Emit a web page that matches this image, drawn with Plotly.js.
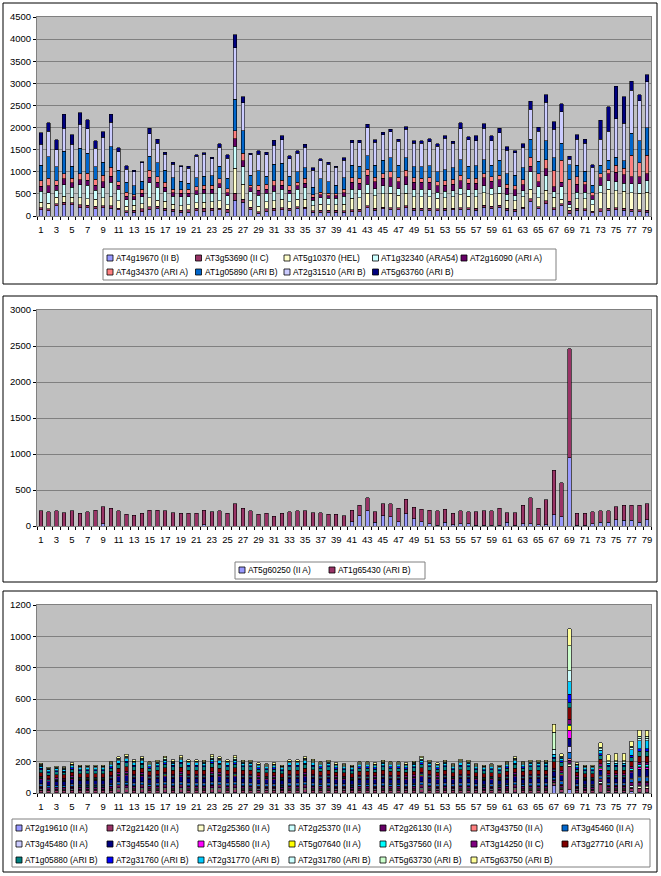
<!DOCTYPE html>
<html><head><meta charset="utf-8">
<script src="https://cdn.plot.ly/plotly-3.0.1.min.js"></script>
<style>html,body{margin:0;padding:0;background:#fff}#chart{width:661px;height:876px}</style>
</head><body><div id="chart"></div>
<script>
// ---------- categories / ticks ----------
const categories = [1,2,3,4,5,6,7,8,9,10,11,12,13,14,15,16,17,18,19,20,21,22,23,24,25,26,27,28,29,30,31,32,33,34,35,36,37,38,39,40,41,42,43,44,45,46,47,48,49,50,51,52,53,54,55,56,57,58,59,60,61,62,63,64,65,66,67,68,69,70,71,72,73,74,75,76,77,78,79];
const tickVals = [1,3,5,7,9,11,13,15,17,19,21,23,25,27,29,31,33,35,37,39,41,43,45,47,49,51,53,55,57,59,61,63,65,67,69,71,73,75,77,79];
const tickLabels = ['1','3','5','7','9','11','13','15','17','19','21','23','25','27','29','31','33','35','37','39','41','43','45','47','49','51','53','55','57','59','61','63','65','67','69','71','73','75','77','79'];

// ---------- panel 1 ----------
const p1Names = ['AT4g19670 (II B)','AT3g53690 (II C)','AT5g10370 (HEL)','AT1g32340 (ARA54)','AT2g16090 (ARI A)','AT4g34370 (ARI A)','AT1g05890 (ARI B)','AT2g31510 (ARI B)','AT5g63760 (ARI B)'];
const p1Colors = ['#9999FF','#993366','#FFFFCC','#CCFFFF','#660066','#FF8080','#0066CC','#CCCCFF','#000080'];
const p1_AT4g19670 = [140,120,230,250,260,190,190,160,190,180,140,80,90,100,150,170,130,110,90,90,120,110,120,140,90,360,310,150,60,110,120,140,130,170,160,80,80,90,90,80,100,100,190,130,160,150,140,190,130,130,130,120,130,140,150,150,130,200,180,200,130,110,160,330,170,280,140,240,60,130,120,70,100,130,140,130,110,100,90];
const p1_AT3g53690 = [45,40,50,60,40,60,50,60,40,50,40,40,40,60,60,50,50,40,40,50,50,60,50,40,60,160,70,50,40,50,50,50,40,40,40,40,50,40,40,40,40,50,40,50,40,40,50,40,40,40,50,40,40,40,40,40,50,40,40,40,40,40,40,60,40,60,50,40,70,40,40,40,60,40,50,40,40,40,40];
const p1_AT5g10370 = [125,130,140,140,120,160,150,160,180,200,160,100,110,120,200,140,150,120,100,110,130,140,150,160,110,560,340,150,120,160,170,190,150,170,180,110,140,120,130,150,260,260,290,280,300,320,280,290,270,270,260,240,240,250,290,260,250,290,260,270,190,190,230,210,200,240,230,100,60,220,230,140,370,440,380,390,380,380,410];
const p1_AT1g32340 = [245,240,160,260,230,300,310,200,230,330,270,150,130,160,340,290,220,180,200,180,190,200,200,300,200,500,390,200,250,200,220,230,180,220,260,130,140,150,140,180,200,180,200,160,180,160,150,190,150,160,150,140,150,140,150,140,160,150,150,150,130,120,140,400,250,330,130,280,60,150,150,130,170,190,200,180,200,210,260];
const p1_AT2g16090 = [120,150,120,130,100,110,110,120,130,140,80,80,60,80,130,110,100,80,80,80,80,90,90,90,70,170,140,90,110,90,120,90,80,80,100,60,70,60,60,80,160,150,200,150,170,200,150,180,170,160,170,140,140,150,170,150,150,180,160,160,140,130,140,120,120,160,110,100,80,180,170,80,160,160,220,190,160,160,150];
const p1_AT4g34370 = [125,170,100,120,100,140,160,130,150,200,80,90,50,80,160,130,110,80,80,90,90,100,90,110,90,180,170,60,120,110,120,110,100,80,110,60,60,60,40,70,110,110,140,110,110,130,110,140,100,90,100,90,100,110,120,100,110,100,100,100,90,90,110,210,170,200,360,500,500,170,70,70,100,100,160,150,480,310,420];
const p1_AT1g05890 = [350,490,310,500,280,570,450,280,300,470,270,220,200,190,310,310,280,260,200,140,210,200,210,290,230,710,510,220,320,180,370,380,220,240,240,170,300,250,200,260,280,270,300,270,300,320,270,290,250,260,280,230,250,260,350,290,290,310,260,340,240,240,270,410,290,430,300,380,330,260,230,160,190,200,180,170,500,500,630];
const p1_AT2g31510 = [470,580,390,530,490,540,550,420,560,550,410,300,320,410,510,440,360,300,320,340,480,500,380,420,460,1160,630,460,380,480,430,540,400,420,460,380,410,400,400,400,510,540,640,520,580,580,540,640,540,540,540,580,710,550,700,590,560,710,550,620,530,510,470,670,680,870,640,720,120,590,640,410,590,660,870,850,970,910,1040];
const p1_AT5g63760 = [260,190,220,310,220,270,210,170,120,180,90,80,40,30,130,100,40,40,30,40,30,30,40,80,80,300,140,40,70,60,110,80,60,60,70,60,40,40,20,60,50,50,70,50,50,60,50,60,50,50,70,50,60,50,140,70,120,110,120,100,80,50,70,190,90,170,170,180,70,100,90,60,420,550,730,600,210,130,150];
const p1Series = [p1_AT4g19670,p1_AT3g53690,p1_AT5g10370,p1_AT1g32340,p1_AT2g16090,p1_AT4g34370,p1_AT1g05890,p1_AT2g31510,p1_AT5g63760];

// ---------- panel 2 ----------
const p2Names = ['AT5g60250 (II A)','AT1g65430 (ARI B)'];
const p2Colors = ['#9999FF','#993366'];
const p2_AT5g60250 = [0,0,0,0,0,0,0,0,30,0,0,0,0,0,0,0,0,0,0,0,0,20,0,0,0,0,0,0,0,0,0,0,0,0,0,0,0,0,0,0,60,140,210,50,140,130,60,170,100,60,30,10,50,20,30,30,10,10,10,10,50,10,30,30,20,20,155,130,950,10,10,30,50,50,90,80,80,50,90];
const p2_AT1g65430 = [210,200,210,185,210,175,200,220,235,250,210,160,150,175,220,220,210,185,175,175,175,200,200,210,175,310,250,210,160,175,135,175,200,210,210,185,185,160,160,145,160,145,180,150,170,180,190,205,160,175,190,200,185,155,180,170,190,200,200,240,135,175,255,360,230,345,620,470,1510,165,165,170,160,160,180,205,205,235,220];
const p2Series = [p2_AT5g60250,p2_AT1g65430];

// ---------- panel 3 ----------
const p3Names = ['AT2g19610 (II A)','AT2g21420 (II A)','AT2g25360 (II A)','AT2g25370 (II A)','AT2g26130 (II A)','AT3g43750 (II A)','AT3g45460 (II A)','AT3g45480 (II A)','AT3g45540 (II A)','AT3g45580 (II A)','AT5g07640 (II A)','AT5g37560 (II A)','AT3g14250 (II C)','AT3g27710 (ARI A)','AT1g05880 (ARI B)','AT2g31760 (ARI B)','AT2g31770 (ARI B)','AT2g31780 (ARI B)','AT5g63730 (ARI B)','AT5g63750 (ARI B)'];
const p3Colors = ['#9999FF','#993366','#FFFFCC','#CCFFFF','#660066','#FF8080','#0066CC','#CCCCFF','#000080','#FF00FF','#FFFF00','#00FFFF','#800080','#800000','#008080','#0000FF','#00CCFF','#CCFFFF','#CCFFCC','#FFFF99'];
const p3_AT2g19610 = [3,2,3,2,3,3,3,3,3,3,4,4,3,4,3,3,4,3,4,3,3,3,4,4,3,4,3,3,3,3,3,3,3,3,4,3,3,3,3,3,3,3,3,3,3,3,3,3,3,4,3,3,3,3,3,3,3,3,3,3,3,4,3,3,3,3,50,4,20,3,3,3,5,4,4,4,10,5,5];
const p3_AT2g21420 = [14,12,13,13,14,13,13,13,13,15,17,18,16,17,15,16,17,16,17,16,16,16,18,17,16,17,16,16,14,14,14,13,16,16,17,16,15,16,14,14,13,15,15,14,16,15,15,14,15,17,16,14,16,14,16,16,14,13,14,13,15,17,15,16,16,16,10,20,150,14,13,13,50,15,15,15,20,25,25];
const p3_AT2g25360 = [5,4,4,4,5,5,5,5,5,5,6,6,5,6,5,5,6,5,6,5,5,5,6,6,5,6,5,5,5,5,5,5,5,5,6,5,5,5,5,5,5,5,5,5,5,5,5,5,5,6,5,5,5,5,5,5,5,5,5,5,5,6,5,5,5,5,5,6,10,5,5,5,8,6,6,6,8,10,10];
const p3_AT2g25370 = [5,4,4,4,5,4,4,4,4,5,6,6,5,6,5,5,6,5,6,5,5,5,6,6,5,6,5,5,5,5,5,4,5,5,6,5,5,5,5,5,4,5,5,5,5,5,5,5,5,6,5,5,5,5,5,5,5,4,5,4,5,6,5,5,5,5,5,6,10,5,4,4,8,6,6,6,8,10,10];
const p3_AT2g26130 = [11,10,10,10,11,11,11,11,11,12,14,15,13,14,12,13,14,13,14,13,13,13,14,14,13,14,13,13,11,11,11,11,13,13,14,13,12,13,11,11,11,12,12,11,13,12,12,11,12,14,13,11,13,11,13,13,11,11,11,11,12,14,12,13,13,13,10,15,20,11,11,11,14,12,12,12,18,18,18];
const p3_AT3g43750 = [4,3,3,3,4,4,4,4,4,4,5,5,4,5,4,4,5,4,5,4,4,4,5,5,4,5,4,4,4,4,4,4,4,4,5,4,4,4,4,4,4,4,4,4,4,4,4,4,4,5,4,4,4,4,4,4,4,4,4,4,4,5,4,4,4,4,5,5,10,4,4,4,6,5,5,5,6,8,8];
const p3_AT3g45460 = [11,10,10,10,11,11,11,11,11,12,14,15,13,14,12,13,14,13,14,13,13,13,14,14,13,14,13,13,11,11,11,11,13,13,14,13,12,13,11,11,11,12,12,11,13,12,12,11,12,14,13,11,13,11,13,13,11,11,11,11,12,14,12,13,13,13,15,15,40,11,11,11,14,12,12,12,16,20,20];
const p3_AT3g45480 = [5,4,4,4,5,4,4,4,4,5,6,6,5,6,5,5,6,5,6,5,5,5,6,6,5,6,5,5,5,5,5,4,5,5,6,5,5,5,5,5,4,5,5,5,5,5,5,5,5,6,5,5,5,5,5,5,5,4,5,4,5,6,5,5,5,5,5,6,40,5,4,4,8,6,6,6,8,10,10];
const p3_AT3g45540 = [26,23,24,24,27,25,25,25,25,28,32,34,30,32,28,30,32,30,33,30,30,30,33,32,30,32,30,30,27,26,27,25,30,30,32,31,28,30,27,26,25,28,28,27,30,28,28,27,29,32,30,27,30,26,31,30,26,25,26,25,28,32,28,30,30,30,30,34,50,27,25,25,32,28,28,28,35,45,45];
const p3_AT3g45580 = [6,5,5,5,6,5,5,5,5,6,7,7,6,7,6,6,7,6,7,6,6,6,7,7,6,7,6,6,6,6,6,5,6,6,7,6,6,6,6,6,5,6,6,6,6,6,6,6,6,7,6,6,6,6,6,6,6,5,6,5,6,7,6,6,6,6,5,7,50,6,5,5,10,7,7,7,10,12,12];
const p3_AT5g07640 = [3,2,3,2,3,3,3,3,3,3,3,4,3,3,3,3,4,3,4,3,3,3,4,3,3,4,3,3,3,3,3,3,3,3,3,3,3,3,3,3,3,3,3,3,3,3,3,3,3,4,3,3,3,3,3,3,3,3,3,3,3,3,3,3,3,3,3,4,30,3,3,3,5,4,4,4,5,6,6];
const p3_AT5g37560 = [6,5,5,5,6,5,5,5,5,6,7,7,6,7,6,6,7,6,7,6,6,6,7,7,6,7,6,6,6,6,6,5,6,6,7,6,6,6,6,6,5,6,6,6,6,6,6,6,6,7,6,6,6,6,6,6,6,5,6,5,6,7,6,6,6,6,5,7,10,6,5,5,10,7,7,7,10,12,12];
const p3_AT3g14250 = [9,8,9,9,10,9,9,9,9,10,11,12,11,11,10,11,12,11,12,11,11,11,12,11,11,12,11,11,10,9,10,9,11,11,11,11,10,11,10,9,9,10,10,10,11,10,10,10,10,12,11,10,11,9,11,11,9,9,9,9,10,11,10,11,11,11,10,12,30,10,9,9,16,10,10,10,16,16,16];
const p3_AT3g27710 = [22,20,21,21,23,21,21,21,21,24,27,29,26,27,24,25,28,26,28,26,26,25,29,27,26,28,25,25,23,22,23,21,26,26,27,26,24,25,23,22,21,24,24,23,25,24,24,23,25,28,25,23,25,22,26,25,22,21,22,21,24,27,24,25,25,25,40,29,75,23,21,21,30,24,24,24,32,38,38];
const p3_AT1g05880 = [19,17,17,17,19,18,18,18,18,20,23,25,22,23,20,21,23,21,23,22,22,21,24,23,22,23,21,21,19,18,19,18,22,22,23,22,20,21,19,19,18,20,20,19,21,20,20,19,21,23,21,19,21,18,22,21,19,18,19,18,20,23,20,21,21,21,20,25,30,19,18,18,24,20,20,20,26,32,32];
const p3_AT2g31760 = [8,7,7,7,8,7,7,7,7,8,9,10,9,9,8,8,9,9,9,9,9,8,10,9,9,9,8,8,8,7,8,7,9,9,9,9,8,8,8,7,7,8,8,8,8,8,8,8,8,9,8,8,8,7,9,8,7,7,7,7,8,9,8,8,8,8,10,10,55,8,7,7,12,10,10,10,14,16,16];
const p3_AT2g31770 = [13,12,12,12,13,13,13,13,13,14,16,17,15,16,14,15,16,15,16,15,15,15,17,16,15,16,15,15,13,13,13,13,15,15,16,15,14,15,13,13,13,14,14,13,15,14,14,13,14,16,15,13,15,13,15,15,13,13,13,13,14,16,14,15,15,15,20,17,80,13,13,13,22,14,14,14,35,50,50];
const p3_AT2g31780 = [6,5,5,5,6,5,5,5,5,6,7,7,6,7,6,6,7,6,7,6,6,6,7,7,6,7,6,6,6,6,6,5,6,6,7,6,6,6,6,6,5,6,6,6,6,6,6,6,6,7,6,6,6,6,6,6,6,5,6,5,6,7,6,6,6,6,30,7,70,6,5,5,8,8,8,8,15,18,18];
const p3_AT5g63730 = [6,5,5,5,6,5,5,5,5,6,7,7,6,7,6,6,7,6,7,6,6,6,7,7,6,7,6,6,6,6,6,5,6,6,7,6,6,6,6,6,5,6,6,6,6,6,6,6,6,7,6,6,6,6,6,6,6,5,6,5,6,7,6,6,6,6,110,7,160,6,5,5,10,8,8,8,8,10,10];
const p3_AT5g63750 = [7,6,6,6,7,7,7,7,7,8,10,14,9,10,8,9,12,9,13,9,9,9,14,12,9,13,9,9,7,7,7,7,9,9,10,9,8,9,7,7,7,8,8,7,9,8,8,7,8,12,9,7,9,7,11,9,7,7,7,7,8,12,8,9,9,9,52,14,110,7,7,7,30,38,45,45,30,40,35];
const p3Series = [p3_AT2g19610,p3_AT2g21420,p3_AT2g25360,p3_AT2g25370,p3_AT2g26130,p3_AT3g43750,p3_AT3g45460,p3_AT3g45480,p3_AT3g45540,p3_AT3g45580,p3_AT5g07640,p3_AT5g37560,p3_AT3g14250,p3_AT3g27710,p3_AT1g05880,p3_AT2g31760,p3_AT2g31770,p3_AT2g31780,p3_AT5g63730,p3_AT5g63750];

// ---------- build figure ----------
const W = 661, H = 876;
const px = v => v / W;
const py = v => 1 - v / H;
const FONT = 'Liberation Sans, Arial, sans-serif';

const traces = [];
function addPanel(series, names, colors, ax) {
  series.forEach((vals, i) => {
    traces.push({
      type: 'bar', x: categories, y: vals, name: names[i],
      xaxis: 'x' + ax, yaxis: 'y' + ax, showlegend: false,
      marker: { color: colors[i], line: { color: '#000', width: 0.6 } },
      hovertemplate: names[i] + ': %{y}<extra></extra>'
    });
  });
}
addPanel(p1Series, p1Names, p1Colors, '');
addPanel(p2Series, p2Names, p2Colors, '2');
addPanel(p3Series, p3Names, p3Colors, '3');

const shapes = [];
const annotations = [];
// panel frames
[[3, 3, 657, 284], [3, 296, 657, 582], [3, 591, 657, 872]].forEach(b => {
  shapes.push({ type: 'rect', xref: 'paper', yref: 'paper', x0: px(b[0]), x1: px(b[2]), y0: py(b[3]), y1: py(b[1]),
    line: { color: '#000', width: 1 }, fillcolor: 'rgba(0,0,0,0)', layer: 'below' });
});

function addLegend(names, colors, bx, by, bw, bh, sx, sy, cols, colW, rowH) {
  shapes.push({ type: 'rect', xref: 'paper', yref: 'paper', x0: px(bx), x1: px(bx + bw), y0: py(by + bh), y1: py(by),
    line: { color: '#808080', width: 1 }, fillcolor: '#fff', layer: 'below' });
  names.forEach((n, i) => {
    const c = i % cols, r = Math.floor(i / cols);
    const x = sx + c * colW, y = sy + r * rowH;
    shapes.push({ type: 'rect', xref: 'paper', yref: 'paper', x0: px(x), x1: px(x + 6), y0: py(y + 3), y1: py(y - 3),
      fillcolor: colors[i], line: { color: '#000', width: 0.8 } });
    annotations.push({ xref: 'paper', yref: 'paper', x: px(x + 7), y: py(y), xanchor: 'left', yanchor: 'middle',
      text: n, showarrow: false, font: { family: FONT, size: 8.4, color: '#000' } });
  });
}
addLegend(p1Names, p1Colors, 103, 249, 453, 31, 107, 258, 5, 88.5, 14);
addLegend(p2Names, p2Colors, 235, 562, 190, 17, 239, 570, 2, 90, 14);
addLegend(p3Names, p3Colors, 12, 819, 638, 48, 16, 828, 7, 91, 16);

const xBase = {
  range: [0.5, 79.5], tickmode: 'array', tickvals: tickVals, ticktext: tickLabels,
  ticks: '', showgrid: false, zeroline: false, showline: true, linecolor: '#808080', mirror: true,
  tickfont: { family: FONT, size: 9.5, color: '#000' }, ticklabelstandoff: 5,
  minor: { tickmode: 'linear', tick0: 0.5, dtick: 1, ticks: 'outside', ticklen: 3, tickcolor: '#000', showgrid: false },
  domain: [px(37), px(651)], fixedrange: true
};
function yAxis(range, dtick, dom) {
  return { range: range, dtick: dtick, tick0: 0, showgrid: true, gridcolor: '#808080', gridwidth: 1,
    zeroline: false, showline: true, linecolor: '#808080', mirror: true,
    ticks: 'outside', ticklen: 3, tickcolor: '#000',
    tickfont: { family: FONT, size: 9.5, color: '#000' }, domain: dom, fixedrange: true };
}

const layout = {
  width: W, height: H, margin: { l: 0, r: 0, t: 0, b: 0 },
  paper_bgcolor: '#fff', plot_bgcolor: '#C0C0C0',
  barmode: 'stack', bargap: 0.55, showlegend: false,
  font: { family: FONT, size: 10, color: '#000' },
  xaxis: Object.assign({}, xBase, { anchor: 'y' }),
  yaxis: Object.assign(yAxis([0, 4500], 500, [py(216), py(17)]), { anchor: 'x' }),
  xaxis2: Object.assign({}, xBase, { anchor: 'y2' }),
  yaxis2: Object.assign(yAxis([0, 3000], 500, [py(526), py(310)]), { anchor: 'x2' }),
  xaxis3: Object.assign({}, xBase, { anchor: 'y3' }),
  yaxis3: Object.assign(yAxis([0, 1200], 200, [py(793), py(605)]), { anchor: 'x3' }),
  shapes: shapes, annotations: annotations
};

Plotly.newPlot('chart', traces, layout, { displayModeBar: false });
</script></body></html>
